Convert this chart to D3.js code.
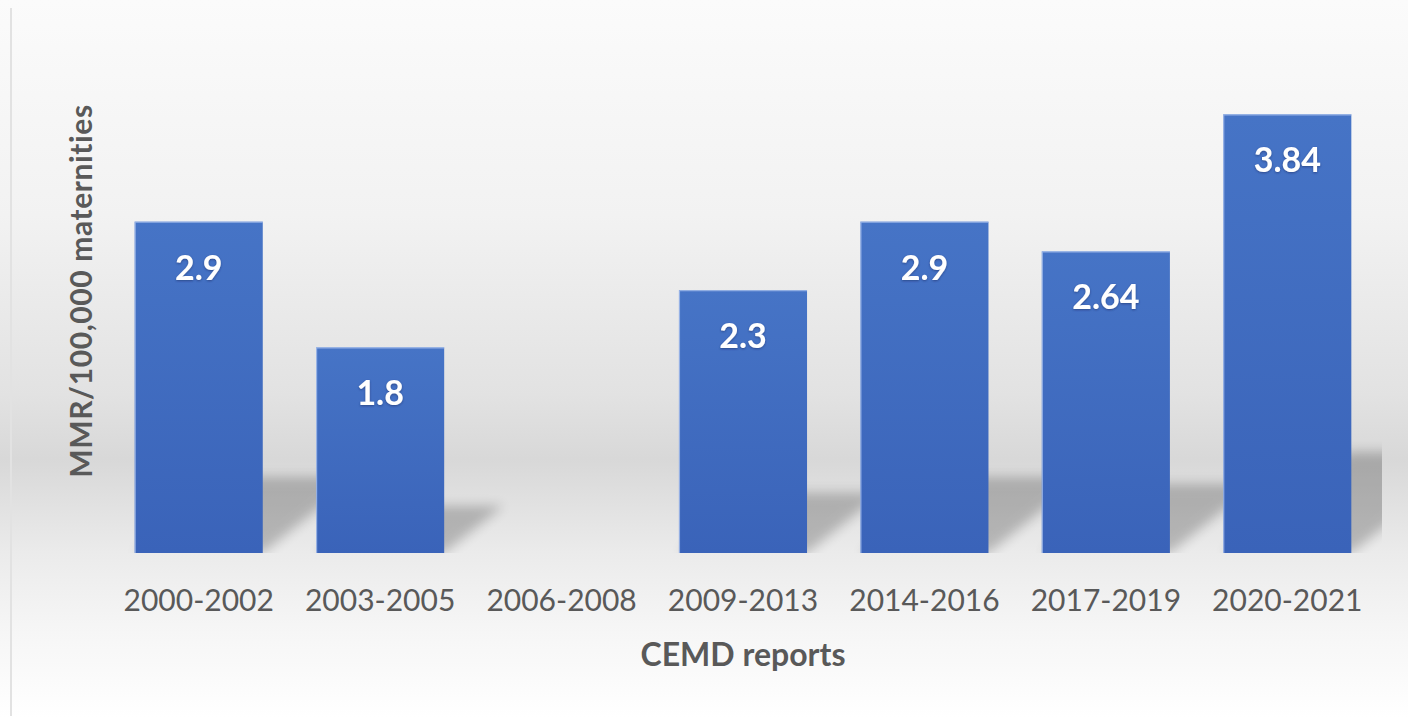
<!DOCTYPE html>
<html>
<head>
<meta charset="utf-8">
<script src="https://cdn.jsdelivr.net/npm/d3@7"></script>
<style>
  html, body { margin: 0; padding: 0; background: #ffffff; }
  svg { display: block; }
</style>
</head>
<body>
<svg id="chart" width="1408" height="718"></svg>
<script>
// CEMD report periods and maternal mortality ratio per 100,000 maternities
const categories = ["2000-2002", "2003-2005", "2006-2008", "2009-2013", "2014-2016", "2017-2019", "2020-2021"];
const values = [2.9, 1.8, null, 2.3, 2.9, 2.64, 3.84];
const valueLabels = ["2.9", "1.8", "", "2.3", "2.9", "2.64", "3.84"];
const yTitle = "MMR/100,000 maternities";
const xTitle = "CEMD reports";

const W = 1408, H = 718;
const plot = { left: 108, right: 1378, top: 96, bottom: 553 };

const svg = d3.select("#chart");
const defs = svg.append("defs");

// chart-area background: soft grey horizon behind the bars
const bg = defs.append("linearGradient").attr("id", "bgGrad")
  .attr("x1", 0).attr("y1", 0).attr("x2", 0).attr("y2", 1);
[[0, "#fbfbfb"], [0.3, "#f2f2f2"], [0.55, "#e2e2e2"], [0.64, "#d8d8d8"],
 [0.77, "#ebebeb"], [0.88, "#f6f6f6"], [1, "#ffffff"]]
  .forEach(([o, c]) => bg.append("stop").attr("offset", o).attr("stop-color", c));

const barGrad = defs.append("linearGradient").attr("id", "barGrad")
  .attr("x1", 0).attr("y1", 0).attr("x2", 0).attr("y2", 1);
barGrad.append("stop").attr("offset", 0).attr("stop-color", "#4674c6");
barGrad.append("stop").attr("offset", 1).attr("stop-color", "#3a63b9");

const blur = defs.append("filter").attr("id", "shadowBlur")
  .attr("x", "-30%").attr("y", "-30%").attr("width", "160%").attr("height", "160%");
blur.append("feGaussianBlur").attr("stdDeviation", 6);

const txtShadow = defs.append("filter").attr("id", "txtShadow")
  .attr("x", "-20%").attr("y", "-20%").attr("width", "140%").attr("height", "140%");
txtShadow.append("feDropShadow").attr("dx", 0).attr("dy", 1).attr("stdDeviation", 1.2)
  .attr("flood-color", "#1a2f66").attr("flood-opacity", 0.6);

defs.append("clipPath").attr("id", "plotClip").append("rect")
  .attr("x", 20).attr("y", 20).attr("width", 1382 - 20).attr("height", plot.bottom - 20);

svg.append("rect").attr("x", 0).attr("y", 0).attr("width", W).attr("height", H)
  .attr("fill", "url(#bgGrad)");

// faint chart-area edge on the left
svg.append("line").attr("x1", 11).attr("x2", 11).attr("y1", 8).attr("y2", 716)
  .attr("stroke", "#e2e2e2").attr("stroke-width", 2);

const x = d3.scaleBand().domain(categories).range([plot.left, plot.right]).paddingInner(0.294).paddingOuter(0.147);
const y = d3.scaleLinear().domain([0, 4]).range([plot.bottom, plot.top]);

const data = categories.map((c, i) => ({ c, v: values[i], label: valueLabels[i] }));
const withValue = data.filter(d => d.v != null);

// perspective shadows falling up and to the right behind each bar
svg.append("g").attr("clip-path", "url(#plotClip)")
  .selectAll("path").data(withValue).join("path")
  .attr("d", d => {
    const x0 = x(d.c), x1 = x0 + x.bandwidth();
    const h = y(0) - y(d.v);
    const dy = 0.23 * h, dx = 1.25 * dy;
    const b = y(0);
    return `M${x0},${b}L${x1},${b}L${x1 + dx},${b - dy}L${x0 + dx},${b - dy}Z`;
  })
  .attr("fill", "#000").attr("opacity", 0.22)
  .attr("filter", "url(#shadowBlur)");

// bars
svg.append("g").selectAll("rect").data(withValue).join("rect")
  .attr("x", d => x(d.c)).attr("y", d => y(d.v))
  .attr("width", x.bandwidth()).attr("height", d => y(0) - y(d.v))
  .attr("fill", "url(#barGrad)");

// light edge along the top and left of each bar
svg.append("g").selectAll("path").data(withValue).join("path")
  .attr("d", d => `M${x(d.c) + 0.5},${y(0)}L${x(d.c) + 0.5},${y(d.v) + 0.5}L${x(d.c) + x.bandwidth()},${y(d.v) + 0.5}`)
  .attr("fill", "none").attr("stroke", "#a9c1ee").attr("stroke-width", 1.2).attr("opacity", 0.8);

// value labels inside the bars
svg.append("g").selectAll("text").data(withValue).join("text")
  .attr("x", d => x(d.c) + x.bandwidth() / 2)
  .attr("y", d => y(d.v) + 58)
  .attr("text-anchor", "middle")
  .attr("font-family", "Lato, 'Open Sans', sans-serif")
  .attr("font-weight", 700).attr("font-size", 34)
  .attr("fill", "#ffffff")
  .attr("filter", "url(#txtShadow)")
  .text(d => d.label);

// category axis labels
const xAxis = d3.axisBottom(x).tickSize(0).tickPadding(0);
const gx = svg.append("g").attr("transform", `translate(0,${plot.bottom})`).call(xAxis);
gx.select(".domain").remove();
gx.selectAll("text")
  .attr("y", 58).attr("dy", 0)
  .attr("font-family", "Lato, 'Open Sans', sans-serif")
  .attr("font-size", 30).attr("fill", "#595959");

// axis titles
svg.append("text")
  .attr("x", (plot.left + plot.right) / 2).attr("y", 666)
  .attr("text-anchor", "middle")
  .attr("font-family", "Lato, 'Open Sans', sans-serif")
  .attr("font-weight", 700).attr("font-size", 32).attr("fill", "#595959")
  .text(xTitle);

svg.append("text")
  .attr("transform", "translate(92,291) rotate(-90)")
  .attr("text-anchor", "middle")
  .attr("font-family", "Lato, 'Open Sans', sans-serif")
  .attr("font-weight", 700).attr("font-size", 30).attr("letter-spacing", 0.6).attr("fill", "#595959")
  .text(yTitle);
</script>
</body>
</html>
